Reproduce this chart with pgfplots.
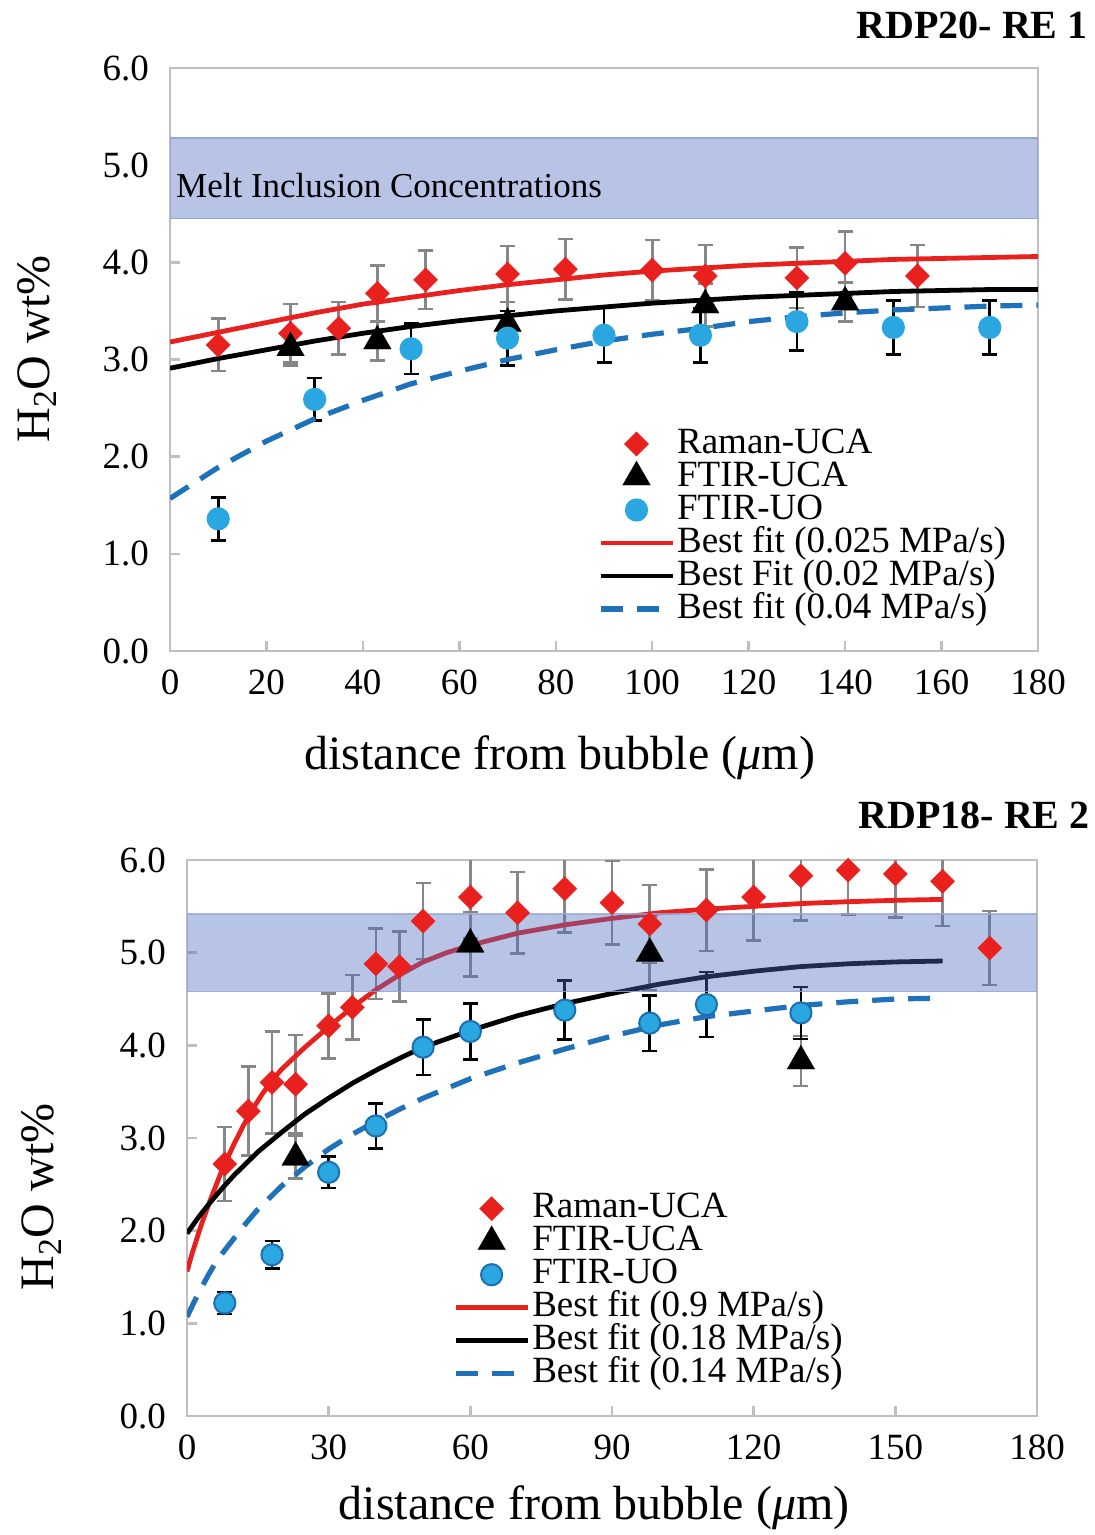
\documentclass[border=0pt]{standalone}
\usepackage{pgfplots}
\pgfplotsset{compat=1.18}
\usepackage{fontspec}
\setmainfont{Liberation Serif}
\definecolor{myred}{RGB}{232,32,30}
\definecolor{mylblue}{RGB}{42,167,224}
\definecolor{myedge}{RGB}{28,111,176}
\definecolor{mydash}{RGB}{31,114,186}
\definecolor{errgray}{RGB}{135,135,135}
\definecolor{axgray}{RGB}{191,191,191}
\definecolor{bandsolid}{RGB}{184,196,230}
\definecolor{bandedge}{RGB}{150,166,214}
\definecolor{bandover}{RGB}{78,108,193}

% ---- top panel data (x, y, err) ----
\pgfplotstableread{
x y e
10 3.15 0.27
25 3.27 0.30
35 3.32 0.27
43 3.68 0.29
53 3.82 0.30
70 3.88 0.29
82 3.93 0.31
100 3.92 0.31
111 3.86 0.32
130 3.84 0.31
140 3.99 0.33
155 3.86 0.32
}\topraman
\pgfplotstableread{
x y e
25 3.12 0.18
43 3.19 0.20
70 3.37 0.22
111 3.56 0.22
140 3.59 0.20
}\topftiruca
\pgfplotstableread{
x y e
10 1.36 0.22
30 2.59 0.22
50 3.11 0.26
70 3.22 0.28
90 3.25 0.28
110 3.25 0.28
130 3.39 0.30
150 3.33 0.28
170 3.33 0.28
}\topftiruo
\pgfplotstableread{
x y
0 3.18
10 3.28
20 3.38
30 3.48
40 3.57
50 3.64
60 3.71
70 3.77
80 3.82
90 3.87
100 3.91
110 3.94
120 3.97
130 3.99
140 4.01
150 4.03
160 4.04
170 4.05
180 4.06
}\topfitred
\pgfplotstableread{
x y
0 2.91
10 3.01
20 3.10
30 3.19
40 3.27
50 3.34
60 3.40
70 3.45
80 3.50
90 3.54
100 3.58
110 3.61
120 3.64
130 3.66
140 3.68
150 3.70
160 3.71
170 3.72
180 3.72
}\topfitblack
\pgfplotstableread{
x y
0 1.57
10 1.89
20 2.16
30 2.39
40 2.58
50 2.75
60 2.88
70 3.00
80 3.10
90 3.19
100 3.26
110 3.32
120 3.39
130 3.44
140 3.48
150 3.51
160 3.53
170 3.55
180 3.56
}\topfitblue

% ---- bottom panel data ----
\pgfplotstableread{
x y e
8 2.72 0.40
13 3.29 0.48
18 3.60 0.55
23 3.58 0.53
30 4.21 0.35
35 4.41 0.35
40 4.88 0.38
45 4.85 0.38
50 5.34 0.41
60 5.60 0.45
70 5.43 0.44
80 5.69 0.47
90 5.54 0.45
98 5.31 0.42
110 5.46 0.44
120 5.60 0.47
130 5.83 0.48
140 5.89 0.48
150 5.85 0.47
160 5.77 0.48
170 5.05 0.40
}\botraman
\pgfplotstableread{
x y e
23 2.79 0.23
60 5.09 0.35
98 4.99 0.40
130 3.83 0.27
}\botftiruca
\pgfplotstableread{
x y e
8 1.22 0.12
18 1.74 0.15
30 2.63 0.17
40 3.13 0.24
50 3.98 0.30
60 4.15 0.30
80 4.38 0.32
98 4.24 0.30
110 4.44 0.35
130 4.35 0.28
}\botftiruo
\pgfplotstableread{
x y
0 1.56
1 1.74
2 1.90
3 2.06
4 2.20
5 2.34
6 2.47
7 2.60
8 2.72
10 2.94
12 3.14
14 3.32
16 3.48
18 3.62
20 3.74
25 3.98
30 4.20
35 4.41
40 4.60
45 4.76
50 4.90
55 5.00
60 5.08
70 5.21
80 5.30
90 5.37
100 5.43
110 5.47
120 5.50
130 5.53
140 5.55
150 5.565
160 5.575
}\botfitred
\pgfplotstableread{
x y
0 1.97
2.5 2.15
5 2.31
7.5 2.46
10 2.60
15 2.85
20 3.06
25 3.26
30 3.43
35 3.59
40 3.73
45 3.86
50 3.98
60 4.16
70 4.32
80 4.45
90 4.56
100 4.66
110 4.74
120 4.80
130 4.85
140 4.88
150 4.90
160 4.91
}\botfitblack
\pgfplotstableread{
x y
0 1.07
1.5 1.23
3 1.38
4.5 1.52
6 1.65
8 1.79
10 1.92
12.5 2.08
15 2.23
20 2.48
25 2.69
30 2.88
35 3.04
40 3.18
45 3.31
50 3.43
60 3.64
70 3.81
80 3.96
90 4.10
100 4.22
110 4.31
120 4.37
130 4.43
140 4.47
150 4.50
160 4.51
}\botfitblue

\pgfplotsset{
  panel/.style={
    scale only axis, anchor=south west,
    ymin=0, ymax=6, ytick={0,1,...,6},
    axis line style={color=axgray, line width=1.4pt},
    tick style={color=axgray, line width=1.2pt},
    major tick length=5pt,
    tick align=inside, tick pos=left,
    /pgf/number format/assume math mode=true,
    tick label style={font=\fontsize{18.5}{20}\selectfont, text=black},
    yticklabel style={xshift=-7pt, /pgf/number format/.cd, fixed, fixed zerofill, precision=1},
    xticklabel style={yshift=-6pt},
    label style={font=\fontsize{24}{28}\selectfont},
    ylabel={H\textsubscript{2}O wt\%},
    xlabel={distance from bubble (\textit{μ}m)},
    legend cell align=left,
    legend image code/.code={\draw[mark repeat=2,mark phase=2,#1] plot coordinates {(0pt,0pt) (18pt,0pt) (36pt,0pt)};},
    legend style={draw=none, fill=none, inner sep=0pt, outer sep=0pt, anchor=north west,
      font=\fontsize{18.5}{20}\selectfont, row sep=0.5pt,
      nodes={inner sep=0pt, text height=12.5pt, text depth=3.5pt},
      /tikz/every odd column/.style={column sep=1pt}},
  },
  ramanstyle/.style={only marks, mark=square*, mark size=4.3pt, color=myred,
    mark options={rotate=45, fill=myred, draw=myred, line width=0.1pt},
    error bars/.cd, y dir=both, y explicit,
    error bar style={color=errgray, line width=1.3pt},
    error mark options={rotate=90, color=errgray, line width=1.3pt, mark size=3.75pt}},
  ucastyle/.style={only marks, mark=triangle*, mark size=8pt, color=black,
    mark options={fill=black, draw=black, line width=0.1pt},
    error bars/.cd, y dir=both, y explicit,
    error bar style={color=errgray, line width=1.3pt},
    error mark options={rotate=90, color=errgray, line width=1.3pt, mark size=3.75pt}},
  uostyle/.style={only marks, mark=*, mark size=5.3pt, color=mylblue,
    mark options={fill=mylblue, draw=#1, line width=1pt},
    error bars/.cd, y dir=both, y explicit,
    error bar style={color=black, line width=1.3pt},
    error mark options={rotate=90, color=black, line width=1.3pt, mark size=3.75pt}},
  redfit/.style={no marks, color=myred, line width=2.4pt, line join=round},
  blackfit/.style={no marks, color=black, line width=2.4pt, line join=round},
  bluefit/.style={no marks, color=mydash, line width=2.6pt, dash pattern=on 11pt off 7pt},
}

\begin{document}
\begin{tikzpicture}
\useasboundingbox (0,0) rectangle (547pt,-767.5pt);

\node[anchor=base east, inner sep=0pt, font=\bfseries\fontsize{20}{22}\selectfont] at (544pt,-19.2pt) {RDP20- RE 1};
\node[anchor=base east, inner sep=0pt, font=\bfseries\fontsize{20}{22}\selectfont] at (545pt,-414pt) {RDP18- RE 2};

% ================= TOP PANEL =================
\begin{axis}[panel,
  at={(85pt,-325.5pt)}, width=434pt, height=291.5pt,
  xmin=0, xmax=180, xtick={0,20,...,180},
  xlabel style={at={(axis description cs:0.449,-0.1835)}, anchor=center},
  ylabel style={at={(axis description cs:-0.153,0.518)}, anchor=center},
  legend style={at={(axis description cs:0.493,0.3825)}},
]
\fill[bandsolid, draw=bandedge, line width=0.8pt] (axis cs:0,4.45) rectangle (axis cs:180,5.28);
\node[anchor=west, inner sep=0pt, font=\fontsize{17.5}{20}\selectfont] at (axis cs:1.2,4.79) {Melt Inclusion Concentrations};

\addplot[ramanstyle] table[x=x, y=y, y error=e] {\topraman};
\addlegendentry{Raman-UCA}
\addplot[ucastyle] table[x=x, y=y, y error=e] {\topftiruca};
\addlegendentry{FTIR-UCA}
\addplot[uostyle=mylblue] table[x=x, y=y, y error=e] {\topftiruo};
\addlegendentry{FTIR-UO}
\addplot[redfit] table[x=x, y=y] {\topfitred};
\addlegendentry{Best fit (0.025 MPa/s)}
\addplot[blackfit] table[x=x, y=y] {\topfitblack};
\addlegendentry{Best Fit (0.02 MPa/s)}
\addplot[bluefit] table[x=x, y=y] {\topfitblue};
\addlegendentry{Best fit (0.04 MPa/s)}
\end{axis}

% ================= BOTTOM PANEL =================
\begin{axis}[panel,
  at={(93.5pt,-708pt)}, width=425pt, height=278pt,
  xmin=0, xmax=180, xtick={0,30,...,180},
  xlabel style={at={(axis description cs:0.479,-0.165)}, anchor=center},
  ylabel style={at={(axis description cs:-0.171,0.394)}, anchor=center},
  legend style={at={(axis description cs:0.313,0.4016)}},
]
\addplot[ramanstyle] table[x=x, y=y, y error=e] {\botraman};
\addlegendentry{Raman-UCA}
\addplot[ucastyle] table[x=x, y=y, y error=e] {\botftiruca};
\addlegendentry{FTIR-UCA}
\addplot[uostyle=myedge] table[x=x, y=y, y error=e] {\botftiruo};
\addlegendentry{FTIR-UO}
\addplot[redfit] table[x=x, y=y] {\botfitred};
\addlegendentry{Best fit (0.9 MPa/s)}
\addplot[blackfit] table[x=x, y=y] {\botfitblack};
\addlegendentry{Best fit (0.18 MPa/s)}
\addplot[bluefit] table[x=x, y=y] {\botfitblue};
\addlegendentry{Best fit (0.14 MPa/s)}
\fill[bandover, fill opacity=0.4, draw=bandedge, draw opacity=0.8, line width=0.8pt] (axis cs:0,4.58) rectangle (axis cs:180,5.42);
\end{axis}
\end{tikzpicture}
\end{document}
